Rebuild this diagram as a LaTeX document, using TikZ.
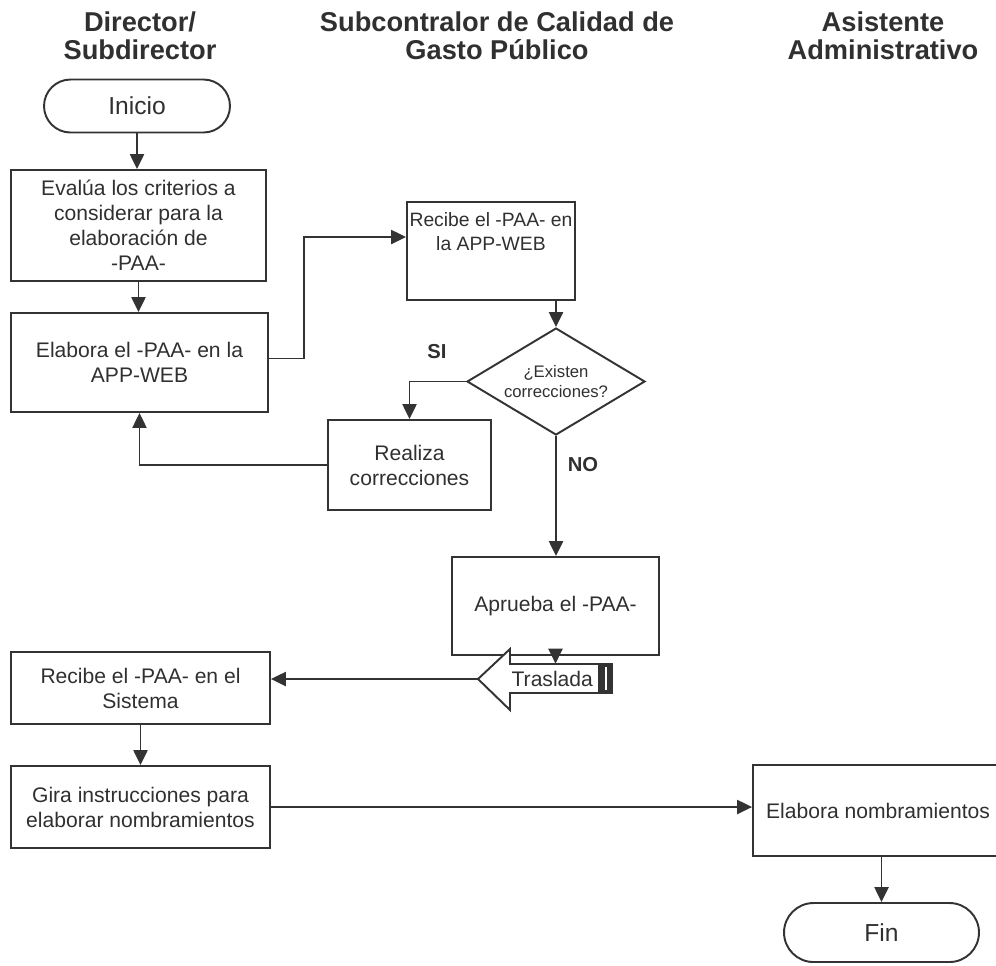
\documentclass[tikz,border=0pt]{standalone}
\usepackage{fontspec}
\setmainfont{Liberation Sans}
\usetikzlibrary{arrows.meta,shapes.geometric,calc}
\definecolor{lc}{HTML}{333333}
\definecolor{tc}{HTML}{303030}
\begin{document}
\begin{tikzpicture}[x=0.02cm,y=-0.02cm,
  base/.style={draw=lc, line width=1.1pt, text=tc, align=center,
    font=\fontsize{12}{14.2}\selectfont, inner sep=2pt},
  proc/.style={base, rectangle},
  term/.style={base, rectangle, font=\fontsize{14}{16}\selectfont},
  arr/.style={draw=lc, line width=1.1pt, -{Triangle[length=8.5pt,width=8pt]}},
  hdr/.style={font=\bfseries\fontsize{15.5}{15.9}\selectfont, align=center, text=tc},
  lbl/.style={font=\bfseries\fontsize{11.5}{14}\selectfont, text=tc}]
\useasboundingbox (0,0) rectangle (996,965);

% lane headings
\node[hdr] (h1) at (140,36) {Director/\\Subdirector};
\node[hdr] (h2) at (497,36) {Subcontralor de Calidad de\\Gasto Público};
\node[hdr] (h3) at (883,36) {Asistente\\Administrativo};

% flow steps
\node[term, rounded corners=0.53cm, minimum width=3.72cm, minimum height=1.06cm] (inicio) at (137,106) {Inicio};
\node[proc, minimum width=5.1cm, minimum height=2.22cm] (evalua) at (138.5,225.5)
  {Evalúa los criterios a\\considerar para la\\elaboración de\\-PAA-};
\node[proc, minimum width=5.14cm, minimum height=1.98cm] (elabora) at (139.5,362.5)
  {Elabora el -PAA- en la\\APP-WEB};
\node[proc, inner sep=0pt, minimum width=3.36cm, minimum height=1.96cm,
  font=\fontsize{11}{13.4}\selectfont] (recapp) at (491,251)
  {Recibe el -PAA- en\\la APP-WEB\\[0.3cm]};
\node[base, shape=diamond, aspect=1.66, minimum width=3.56cm, minimum height=2.14cm, inner sep=0pt,
  font=\fontsize{9.5}{11.4}\selectfont] (dia) at (556,381.5) {¿Existen\\correcciones?};
\node[proc, minimum width=3.26cm, minimum height=1.8cm] (realiza) at (409.5,465)
  {Realiza\\correcciones};
\node[proc, minimum width=4.14cm, minimum height=1.96cm] (aprueba) at (555.5,606)
  {Aprueba el -PAA-};

% off-page transfer arrow
\draw[lc, line width=1.1pt, fill=white, line join=miter]
  (612,664) -- (510,664) -- (510,649) -- (478,679) -- (510,710) -- (510,693) -- (612,693) -- cycle;
\fill[lc] (598,664) rectangle (612,693);
\draw[white, line width=1pt] (606,667) -- (606,690);
\node[inner sep=0pt, minimum width=2.04cm, minimum height=0.58cm, text=tc,
  font=\fontsize{12}{14}\selectfont] (tras) at (561,678.5) {\hspace*{-0.35cm}Traslada};
\coordinate (trastip) at (478,679);

\node[proc, minimum width=5.18cm, minimum height=1.44cm] (recsis) at (140.5,688)
  {Recibe el -PAA- en el\\Sistema};
\node[proc, minimum width=5.18cm, minimum height=1.64cm] (gira) at (140.5,807)
  {Gira instrucciones para\\elaborar nombramientos};
\node[proc, minimum width=5.0cm, minimum height=1.82cm] (nomb) at (878,810.5)
  {Elabora nombramientos};
\node[term, rounded corners=0.59cm, minimum width=3.9cm, minimum height=1.18cm] (fin) at (881.5,932.5) {Fin};

% connectors
\draw[arr] (inicio.south) -- (evalua.north -| inicio.south);
\draw[arr] (evalua.south) -- (elabora.north -| evalua.south);
\draw[arr] ($(elabora.east)+(0,-4)$) -- ++(35,0) |- ($(recapp.west)+(0,-14)$);
\draw[arr] (dia.north |- recapp.south) -- (dia.north);
\draw[arr] (dia.west) -| (realiza.north);
\draw[arr] (realiza.west) -| (elabora.south);
\draw[arr] (dia.south) -- (aprueba.north -| dia.south);
\draw[arr] (aprueba.south) -- (aprueba.south |- tras.north);
\draw[arr] (trastip) -- (recsis.east |- trastip);
\draw[arr] (recsis.south) -- (gira.north);
\draw[arr] (gira.east) -- (nomb.west |- gira.east);
\draw[arr] (fin.north |- nomb.south) -- (fin.north);

% decision labels
\node[lbl] (si) at (437,352) {SI};
\node[lbl] (no) at (583,465) {NO};
\end{tikzpicture}
\end{document}
